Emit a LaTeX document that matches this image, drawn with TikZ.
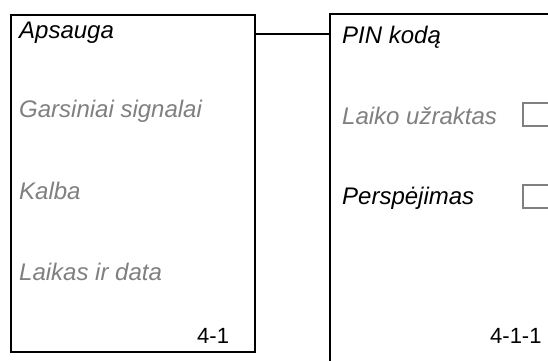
\documentclass[tikz,border=0pt]{standalone}
\usepackage{fontspec}
\setmainfont{Liberation Sans}
\usetikzlibrary{positioning}
\definecolor{menuGray}{HTML}{808080}
\definecolor{lineBlack}{HTML}{000000}

\begin{document}
\begin{tikzpicture}[
  x=1pt, y=-1pt,
  menubox/.style={rectangle, draw=lineBlack, line width=2pt, fill=white,
                  anchor=north west, inner sep=0pt, outer sep=0pt},
  checkbox/.style={rectangle, draw=menuGray, line width=1.8pt,
                   anchor=north west, minimum width=34pt, minimum height=23pt,
                   inner sep=0pt, outer sep=0pt},
  entry/.style={anchor=base west, inner sep=0pt, text=menuGray,
                font=\fontsize{24}{28}\selectfont\itshape},
  active/.style={entry, text=black},
  pagenum/.style={anchor=base west, inner sep=0pt,
                  font=\fontsize{22}{26}\selectfont},
  link/.style={draw=lineBlack, line width=2pt}
]
\clip (0,0) rectangle (548,360);
\fill[white] (0,0) rectangle (548,360);

% ===== Menu 4-1 ==========================================
\node[menubox, minimum width=244pt, minimum height=337pt] (secMenu) at (11,15) {};
\node[active] (apsauga) at (19,38) {Apsauga};
\node[entry]  (signals) at (19,117) {Garsiniai signalai};
\node[entry]  (kalba)   at (19,199) {Kalba};
\node[entry]  (laikas)  at (19,280) {Laikas ir data};
\node[pagenum] (secNum) at (197,343) {4-1};

% ===== Menu 4-1-1 ========================================
\node[menubox, minimum width=240pt, minimum height=380pt] (pinMenu) at (330,14) {};
\node[active] (pin)   at (342,43) {PIN kodą};
\node[entry]  (lock)  at (342,124) {Laiko užraktas};
\node[active] (warn)  at (342,204) {Perspėjimas};
\node[checkbox] (lockBox) at (523,103) {};
\node[checkbox] (warnBox) at (523,185) {};
\node[pagenum] (pinNum) at (490,343) {4-1-1};

% ===== Link between the menus =====
\draw[link] ([yshift=-19pt]secMenu.north east) -- ([yshift=-19pt]secMenu.north east -| pinMenu.west);
\end{tikzpicture}
\end{document}
